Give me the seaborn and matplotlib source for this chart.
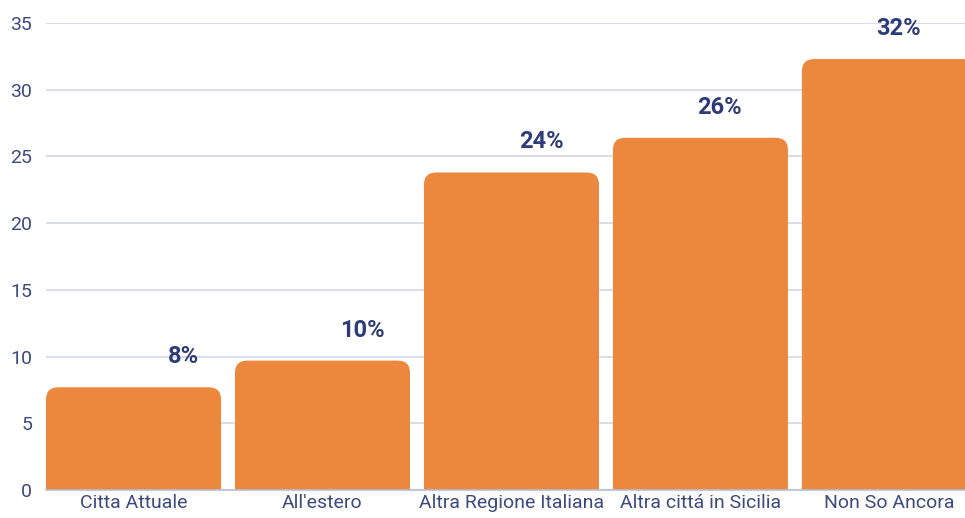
import seaborn as sns
import matplotlib.pyplot as plt
import pandas as pd
from matplotlib.patches import FancyBboxPatch

categorie = ["Citta Attuale", "All'estero", "Altra Regione Italiana", "Altra cittá in Sicilia", "Non So Ancora"]
valori = [7.7, 9.7, 23.8, 26.4, 32.3]
etichette = ["8%", "10%", "24%", "26%", "32%"]

df = pd.DataFrame({"categoria": categorie, "valore": valori})

sns.set_theme(style="white")
plt.rcParams["font.family"] = ["Roboto", "DejaVu Sans"]

arancio = "#EC873E"
blu = "#2E3B78"
testo = "#3D4A7E"

fig = plt.figure(figsize=(9.65, 5.18), dpi=100)
ax = fig.add_axes([0.0477, 0.054, 0.9523, 0.9015])

sns.barplot(data=df, x="categoria", y="valore", color=arancio, width=0.926,
            saturation=1, ax=ax, zorder=2)

# sostituisco le barre con rettangoli arrotondati in alto
for p in list(ax.patches):
    x, w, h = p.get_x(), p.get_width(), p.get_height()
    nuovo = FancyBboxPatch((x, -2), w, h + 2,
                           boxstyle="round,pad=0,rounding_size=0.065",
                           mutation_aspect=14.0,
                           facecolor=arancio, edgecolor="none", zorder=2)
    p.remove()
    ax.add_patch(nuovo)

# nel grafico originale le etichette sono leggermente spostate a destra
for i, (v, t) in enumerate(zip(valori, etichette)):
    lx = 0.265 + 0.946 * i
    ax.annotate(t, (lx, v), xytext=(0, 22), textcoords="offset points",
                ha="center", va="center", fontsize=17, fontweight="bold",
                color=blu, zorder=3)

ax.set_ylim(0, 35)
ax.set_xlim(-0.463, 4.40)
ax.set_yticks(range(0, 36, 5))
ax.yaxis.grid(True, color="#D3D6E6", linewidth=1.2, zorder=0)
ax.set_axisbelow(True)
for s in ["top", "right", "left"]:
    ax.spines[s].set_visible(False)
ax.spines["bottom"].set_color("#B8BDD6")
ax.spines["bottom"].set_linewidth(1.2)
ax.spines["bottom"].set_zorder(3)
ax.tick_params(axis="both", length=0, labelsize=14, colors=testo)
ax.tick_params(axis="y", pad=10)
ax.tick_params(axis="x", pad=3)
ax.set_xlabel("")
ax.set_ylabel("")

fig.savefig("out.png", dpi=100)
